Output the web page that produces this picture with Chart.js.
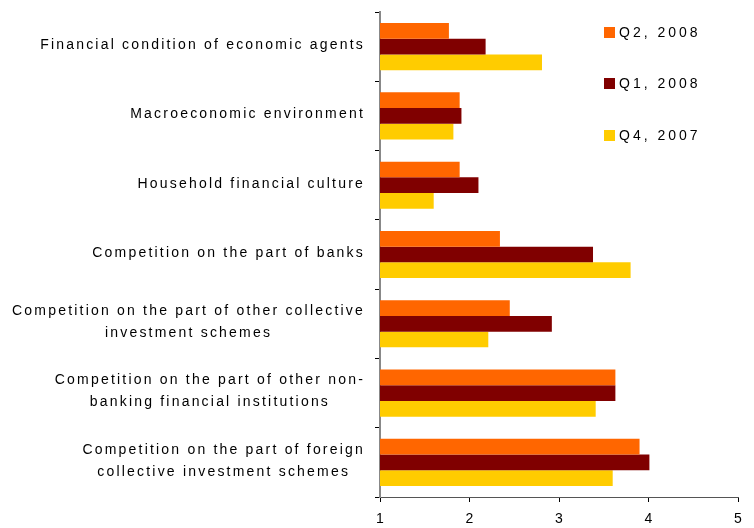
<!DOCTYPE html>
<html>
<head>
<meta charset="utf-8">
<title>Factors affecting collective investment schemes</title>
<script src="https://cdn.jsdelivr.net/npm/chart.js@4.4.1/dist/chart.umd.min.js"></script>
<style>
  html, body { margin: 0; padding: 0; background: #fff; }
  #wrap { width: 754px; height: 528px; }
</style>
</head>
<body>
<div id="wrap"><canvas id="myChart" width="754" height="528"></canvas></div>
<script>
// categories (multi-line labels), top to bottom
const categories = [
  ['Financial condition of economic agents'],
  ['Macroeconomic environment'],
  ['Household financial culture'],
  ['Competition on the part of banks'],
  ['Competition on the part of other collective', 'investment schemes'],
  ['Competition on the part of other non-', 'banking financial institutions'],
  ['Competition on the part of foreign', 'collective investment schemes']
];

// average scores per period
const q2_2008 = [1.77, 1.89, 1.89, 2.34, 2.45, 3.63, 3.90];
const q1_2008 = [2.18, 1.91, 2.10, 3.38, 2.92, 3.63, 4.01];
const q4_2007 = [2.81, 1.82, 1.60, 3.80, 2.21, 3.41, 3.60];

const seriesLabels = ['Q2, 2008', 'Q1, 2008', 'Q4, 2007'];
const xTicks = [1, 2, 3, 4, 5];

const FONT = '"Liberation Sans", Arial, sans-serif';

// category labels: each block centred on itself, block right-aligned to the axis
const categoryLabels = {
  id: 'categoryLabels',
  afterDraw(chart) {
    const ctx = chart.ctx;
    const yScale = chart.scales.y;
    const right = chart.chartArea.left - 15;
    const lineH = 22;
    ctx.save();
    ctx.font = '14px ' + FONT;
    ctx.letterSpacing = '2.2px';
    ctx.fillStyle = '#000';
    ctx.textAlign = 'center';
    ctx.textBaseline = 'middle';
    categories.forEach((lines, i) => {
      const y = yScale.getPixelForValue(i) - 1.5;
      const maxW = Math.max(...lines.map(l => ctx.measureText(l).width));
      const cx = right - maxW / 2;
      lines.forEach((l, k) => {
        ctx.fillText(l, cx, y + (k - (lines.length - 1) / 2) * lineH);
      });
    });
    ctx.restore();
  }
};

// legend inside the plot, top right
const sideLegend = {
  id: 'sideLegend',
  afterDraw(chart) {
    const ctx = chart.ctx;
    const rows = [32.5, 83.5, 135.5];
    ctx.save();
    ctx.font = '14px ' + FONT;
    ctx.letterSpacing = '3px';
    ctx.textBaseline = 'middle';
    ctx.textAlign = 'left';
    chart.data.datasets.forEach((ds, i) => {
      const y = rows[i];
      ctx.fillStyle = ds.backgroundColor;
      ctx.fillRect(604, y - 5.5, 11, 11);
      ctx.fillStyle = '#000';
      ctx.fillText(ds.label, 619, y + 1);
    });
    ctx.restore();
  }
};

function createChart(ctx) {
  return new Chart(ctx, {
    type: 'bar',
    data: {
      labels: categories.map(c => c.join(' ')),
      datasets: [
        { label: seriesLabels[0], data: q2_2008, backgroundColor: '#FF6600' },
        { label: seriesLabels[1], data: q1_2008, backgroundColor: '#800000' },
        { label: seriesLabels[2], data: q4_2007, backgroundColor: '#FFCC00' }
      ]
    },
    options: {
      indexAxis: 'y',
      responsive: false,
      animation: false,
      events: [],
      layout: { padding: { top: 12, right: 16, left: 0, bottom: 0 } },
      datasets: { bar: { categoryPercentage: 0.68, barPercentage: 1.0 } },
      plugins: { legend: { display: false }, tooltip: { enabled: false } },
      scales: {
        x: {
          type: 'linear',
          min: 1,
          max: 5,
          afterBuildTicks: s => { s.ticks = xTicks.map(v => ({ value: v })); },
          afterFit: s => { s.height = 31; },
          ticks: { font: { family: FONT, size: 14 }, color: '#000', padding: 9 },
          grid: { drawOnChartArea: false, tickLength: 5, color: '#000' },
          border: { color: '#555', width: 1 }
        },
        y: {
          offset: true,
          afterFit: s => { s.width = 380; },
          ticks: { display: false },
          grid: { offset: true, drawOnChartArea: false, tickLength: 5, color: '#000' },
          border: { color: '#888', width: 2 }
        }
      }
    },
    plugins: [categoryLabels, sideLegend]
  });
}

window.addEventListener('DOMContentLoaded', () => {
  createChart(document.getElementById('myChart').getContext('2d'));
});
</script>
</body>
</html>
